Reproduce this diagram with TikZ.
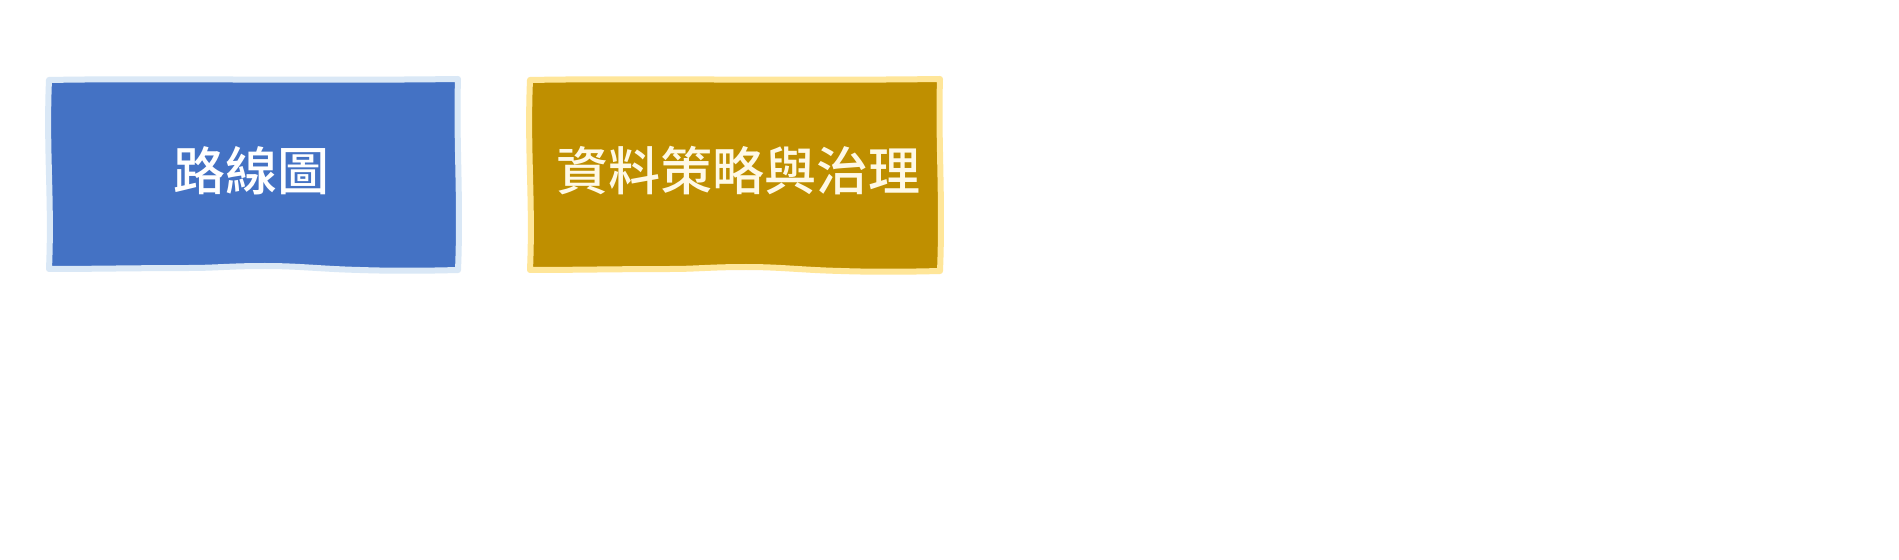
\documentclass[tikz,border=0pt]{standalone}
\usepackage{fontspec}
\newfontfamily\cjk{Noto Sans CJK TC Medium}
\definecolor{bluefill}{HTML}{4472C4}
\definecolor{blueedge}{HTML}{DAE8F6}
\definecolor{goldfill}{HTML}{BF8F00}
\definecolor{goldedge}{HTML}{FFE699}
\definecolor{cream}{HTML}{FFF9E6}
\tikzset{
  boxshape/.style={line width=6bp, line join=round},
  label/.style={font=\cjk\fontsize{52bp}{60bp}\selectfont, inner sep=0pt},
}
\begin{document}
\begin{tikzpicture}[x=1bp,y=-1bp]
\useasboundingbox[fill=white] (0,0) rectangle (1899,560);
% box 1
\draw[boxshape, fill=bluefill, draw=blueedge]
  (49,80) .. controls (150,78) and (300,81) .. (458,79)
  .. controls (456,140) and (461,200) .. (458,270)
  .. controls (420,271) and (390,271) .. (360,270)
  .. controls (320,269) and (300,266) .. (265,266)
  .. controls (230,266) and (215,268) .. (190,268)
  .. controls (140,268) and (90,269) .. (49,269)
  .. controls (52,200) and (46,150) .. cycle;
% box 2
\draw[boxshape, fill=goldfill, draw=goldedge]
  (530,80) .. controls (631,78) and (781,81) .. (940,79)
  .. controls (938,140) and (943,200) .. (940,271)
  .. controls (901,272) and (871,272) .. (841,271)
  .. controls (801,270) and (781,267) .. (746,267)
  .. controls (711,267) and (696,269) .. (671,269)
  .. controls (621,269) and (571,270) .. (530,270)
  .. controls (533,200) and (527,150) .. cycle;
\node[label, text=white] (t1) at (251,171) {路線圖};
\node[label, text=cream] (t2) at (738,171) {資料策略與治理};
\end{tikzpicture}
\end{document}
